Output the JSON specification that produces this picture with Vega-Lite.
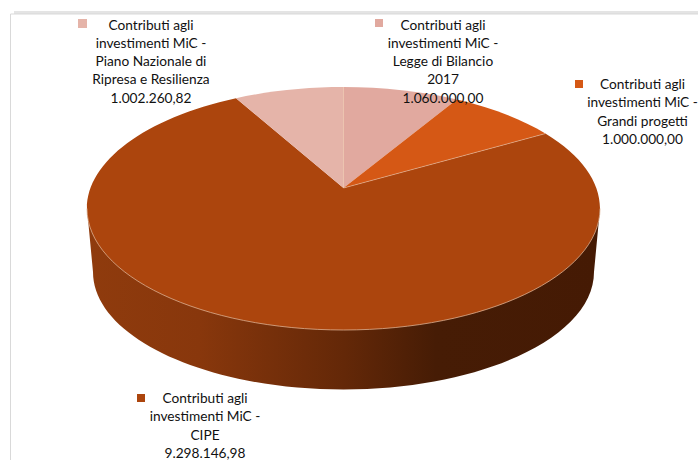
{"$schema":"https://vega.github.io/schema/vega-lite/v6.json","width":698,"height":460,"padding":0,"autosize":{"type":"none"},"background":"white","config":{"view":{"stroke":null}},"data":{"values":[{"ord":1,"name":"Legge di Bilancio 2017","value":1060000.00,"label":"Contributi agli\ninvestimenti MiC -\nLegge di Bilancio\n2017\n1.060.000,00"},{"ord":2,"name":"Grandi progetti","value":1000000.00,"label":"Contributi agli\ninvestimenti MiC -\nGrandi progetti\n1.000.000,00"},{"ord":3,"name":"CIPE","value":9298146.98,"label":"Contributi agli\ninvestimenti MiC -\nCIPE\n9.298.146,98"},{"ord":4,"name":"Piano Nazionale di Ripresa e Resilienza","value":1002260.82,"label":"Contributi agli\ninvestimenti MiC -\nPiano Nazionale di\nRipresa e Resilienza\n1.002.260,82"}]},"transform":[{"window":[{"op":"sum","field":"value","as":"cum"}],"sort":[{"field":"ord","order":"ascending"}]},{"joinaggregate":[{"op":"sum","field":"value","as":"total"}]},{"calculate":"2*PI*(datum.cum-datum.value)/datum.total","as":"t0"},{"calculate":"2*PI*datum.cum/datum.total","as":"t1"},{"calculate":"round(100*(-5.5+252.8*sin(datum.t0)/(1+0.1687*cos(datum.t0))))/100","as":"x0"},{"calculate":"round(100*(-42-118*cos(datum.t0)/(1+0.1687*cos(datum.t0))))/100","as":"y0"},{"calculate":"round(100*(-5.5+252.8*sin(datum.t1)/(1+0.1687*cos(datum.t1))))/100","as":"x1"},{"calculate":"round(100*(-42-118*cos(datum.t1)/(1+0.1687*cos(datum.t1))))/100","as":"y1"},{"calculate":"'M-5.5,-42L'+datum.x0+','+datum.y0+'A256.5,121.5,0,'+(datum.t1-datum.t0>PI?1:0)+',1,'+datum.x1+','+datum.y1+'Z'","as":"wedge"},{"calculate":"'M-5.5,-42L'+datum.x1+','+datum.y1","as":"edge"}],"layer":[{"transform":[{"filter":"datum.ord==3"}],"mark":{"type":"point","size":4,"filled":false,"stroke":"#e4e4e4","strokeWidth":3,"opacity":1},"encoding":{"shape":{"value":"M-335,-217.5L349,-217.5"}}},{"transform":[{"filter":"datum.ord==3"}],"mark":{"type":"point","size":4,"filled":false,"stroke":"#d9d9d9","strokeWidth":1,"opacity":1},"encoding":{"shape":{"value":"M-338.5,230L-338.5,-216L349,-216"}}},{"transform":[{"filter":"datum.ord==3"}],"mark":{"type":"point","size":4,"filled":true,"opacity":1,"fill":{"gradient":"linear","x1":0,"y1":0,"x2":1,"y2":0,"stops":[{"offset":0,"color":"#8f3b0d"},{"offset":0.22,"color":"#88370c"},{"offset":0.5,"color":"#642808"},{"offset":0.68,"color":"#461c05"},{"offset":1,"color":"#451a04"}]}},"encoding":{"shape":{"value":"M-262,-21.5L-256,42A250.5,117.5,0,0,0,245,42L251,-21.5Z"}}},{"mark":{"type":"point","size":4,"filled":true,"opacity":1},"encoding":{"shape":{"field":"wedge","type":"nominal","scale":null,"legend":null},"fill":{"field":"name","type":"nominal","legend":null,"scale":{"domain":["Legge di Bilancio 2017","Grandi progetti","CIPE","Piano Nazionale di Ripresa e Resilienza"],"range":["#E1A99F","#D55815","#AC450D","#E5B4A9"]}}}},{"transform":[{"filter":"datum.ord==2||datum.ord==4"}],"mark":{"type":"point","size":4,"filled":false,"stroke":"#eec4a8","strokeWidth":0.7,"opacity":0.8},"encoding":{"shape":{"field":"edge","type":"nominal","scale":null,"legend":null}}},{"transform":[{"filter":"datum.ord==3"}],"mark":{"type":"point","size":4,"filled":false,"stroke":"#dcae90","strokeWidth":0.8,"opacity":1},"encoding":{"shape":{"value":"M-262,-21.5A256.5,121.5,0,0,0,251,-21.5"}}},{"transform":[{"filter":"datum.ord==4"}],"mark":{"type":"point","size":4,"filled":true,"opacity":1,"fill":"#E5B4A9"},"encoding":{"shape":{"value":"M-271,-211H-262V-202H-271Z"}}},{"transform":[{"filter":"datum.ord==1"}],"mark":{"type":"point","size":4,"filled":true,"opacity":1,"fill":"#E1A99F"},"encoding":{"shape":{"value":"M26,-211H34V-203H26Z"}}},{"transform":[{"filter":"datum.ord==2"}],"mark":{"type":"point","size":4,"filled":true,"opacity":1,"fill":"#D55815"},"encoding":{"shape":{"value":"M226,-150H234V-142H226Z"}}},{"transform":[{"filter":"datum.ord==3"}],"mark":{"type":"point","size":4,"filled":true,"opacity":1,"fill":"#AC450D"},"encoding":{"shape":{"value":"M-212,164H-204V172H-212Z"}}},{"transform":[{"filter":"datum.ord==4"}],"mark":{"type":"text","font":"Lato","fontSize":13.7,"fill":"#111111","align":"center","baseline":"alphabetic","lineBreak":"\n","lineHeight":18.3,"dx":-198,"dy":-200.5},"encoding":{"text":{"field":"label"}}},{"transform":[{"filter":"datum.ord==1"}],"mark":{"type":"text","font":"Lato","fontSize":13.7,"fill":"#111111","align":"center","baseline":"alphabetic","lineBreak":"\n","lineHeight":18.3,"dx":94,"dy":-200.5},"encoding":{"text":{"field":"label"}}},{"transform":[{"filter":"datum.ord==2"}],"mark":{"type":"text","font":"Lato","fontSize":13.7,"fill":"#111111","align":"center","baseline":"alphabetic","lineBreak":"\n","lineHeight":18.3,"dx":293.5,"dy":-141},"encoding":{"text":{"field":"label"}}},{"transform":[{"filter":"datum.ord==3"}],"mark":{"type":"text","font":"Lato","fontSize":13.7,"fill":"#111111","align":"center","baseline":"alphabetic","lineBreak":"\n","lineHeight":18.3,"dx":-144,"dy":173},"encoding":{"text":{"field":"label"}}}]}
